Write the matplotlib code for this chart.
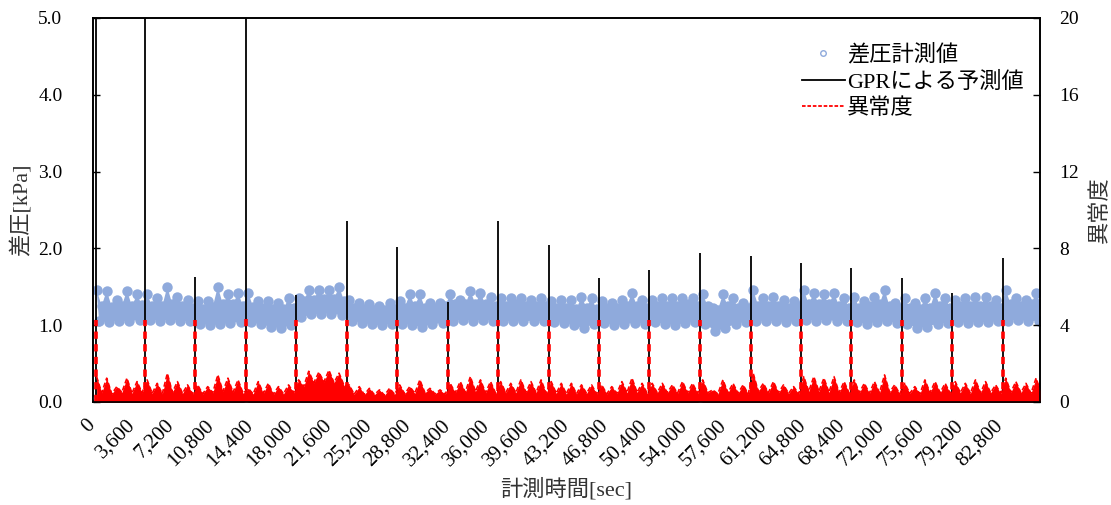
import matplotlib
matplotlib.use("Agg")
import matplotlib.pyplot as plt
import matplotlib.transforms as mtransforms
from matplotlib.lines import Line2D
import numpy as np

plt.rcParams['font.family'] = ['Liberation Serif', 'Noto Sans CJK JP']

# ---- data ----
INTERVAL = 4608      # sec between the periodic spikes
FIRST = 100          # start of the first interval [sec]
X_MAX = 86400

# upper edge of the measured band [kPa], 10 bins per spike interval
press_top = [
    1.46, 1.25, 1.45, 1.24, 1.33, 1.25, 1.45, 1.25, 1.40, 1.26,
    1.40, 1.25, 1.35, 1.25, 1.50, 1.27, 1.37, 1.25, 1.33, 1.23,
    1.31, 1.21, 1.31, 1.24, 1.50, 1.27, 1.40, 1.27, 1.42, 1.25,
    1.42, 1.24, 1.31, 1.22, 1.31, 1.21, 1.29, 1.21, 1.35, 1.23,
    1.35, 1.31, 1.46, 1.33, 1.46, 1.34, 1.46, 1.34, 1.50, 1.32,
    1.33, 1.23, 1.29, 1.21, 1.27, 1.20, 1.25, 1.20, 1.29, 1.21,
    1.31, 1.23, 1.40, 1.25, 1.40, 1.23, 1.29, 1.23, 1.29, 1.25,
    1.40, 1.27, 1.33, 1.27, 1.44, 1.28, 1.42, 1.27, 1.37, 1.25,
    1.35, 1.25, 1.35, 1.27, 1.35, 1.25, 1.33, 1.25, 1.35, 1.25,
    1.31, 1.23, 1.33, 1.23, 1.33, 1.21, 1.37, 1.23, 1.35, 1.21,
    1.31, 1.23, 1.29, 1.23, 1.33, 1.25, 1.42, 1.25, 1.33, 1.23,
    1.33, 1.25, 1.35, 1.25, 1.35, 1.25, 1.35, 1.27, 1.35, 1.25,
    1.40, 1.25, 1.22, 1.20, 1.40, 1.25, 1.35, 1.23, 1.29, 1.23,
    1.46, 1.25, 1.35, 1.25, 1.37, 1.25, 1.33, 1.23, 1.31, 1.25,
    1.46, 1.27, 1.42, 1.27, 1.40, 1.27, 1.42, 1.25, 1.35, 1.23,
    1.37, 1.23, 1.31, 1.25, 1.37, 1.27, 1.46, 1.25, 1.29, 1.23,
    1.35, 1.23, 1.29, 1.21, 1.35, 1.23, 1.42, 1.25, 1.35, 1.23,
    1.33, 1.25, 1.35, 1.25, 1.37, 1.25, 1.37, 1.25, 1.33, 1.23,
    1.46, 1.27, 1.35, 1.25, 1.33, 1.27, 1.42, 1.27,
]

# lower edge of the measured band [kPa], 5 bins per spike interval
press_bot = [
    1.05, 1.04, 1.06, 1.05, 1.07,
    1.07, 1.06, 1.07, 1.06, 1.05,
    1.02, 1.00, 1.01, 1.03, 1.04,
    1.04, 1.01, 0.98, 0.96, 1.00,
    1.10, 1.14, 1.15, 1.15, 1.13,
    1.06, 1.03, 1.01, 1.00, 1.02,
    1.02, 1.00, 0.98, 1.01, 1.03,
    1.06, 1.07, 1.06, 1.07, 1.06,
    1.06, 1.05, 1.05, 1.06, 1.05,
    1.04, 1.03, 1.00, 0.96, 1.02,
    1.03, 1.00, 1.01, 1.03, 1.02,
    1.04, 1.02, 1.00, 1.03, 1.04,
    1.02, 0.92, 0.96, 1.02, 1.04,
    1.05, 1.06, 1.05, 1.04, 1.05,
    1.07, 1.06, 1.07, 1.05, 1.06,
    1.04, 1.02, 1.04, 1.05, 1.03,
    1.02, 0.96, 0.98, 1.02, 1.03,
    1.04, 1.03, 1.04, 1.04, 1.05,
    1.06, 1.07, 1.05, 1.06,
]

# GPR prediction level between spikes [kPa], one per interval
gpr_level = [1.16, 1.17, 1.14, 1.13, 1.24, 1.12, 1.13, 1.17, 1.16, 1.14,
             1.13, 1.15, 1.13, 1.16, 1.17, 1.15, 1.13, 1.15, 1.17]

# anomaly score (right axis), 10 bins per spike interval
anomaly = [
    1.32, 0.48, 1.24, 0.42, 0.80, 0.50, 1.24, 0.45, 1.06, 0.48,
    1.15, 0.45, 0.97, 0.42, 1.49, 0.50, 1.06, 0.45, 0.89, 0.42,
    0.89, 0.42, 0.80, 0.48, 1.41, 0.55, 1.24, 0.50, 1.15, 0.45,
    0.71, 0.42, 1.06, 0.45, 0.97, 0.40, 0.80, 0.42, 0.89, 0.48,
    1.15, 0.80, 1.60, 1.00, 1.55, 1.05, 1.65, 1.00, 1.50, 0.85,
    0.89, 0.40, 0.80, 0.38, 0.71, 0.38, 0.63, 0.35, 0.71, 0.40,
    0.89, 0.42, 0.80, 0.45, 1.15, 0.48, 0.71, 0.42, 0.63, 0.40,
    0.97, 0.48, 1.06, 0.50, 1.32, 0.55, 1.15, 0.48, 1.06, 0.45,
    1.06, 0.48, 0.97, 0.48, 1.15, 0.50, 1.06, 0.48, 1.15, 0.45,
    1.06, 0.45, 0.97, 0.42, 0.97, 0.42, 0.89, 0.45, 0.89, 0.42,
    0.89, 0.42, 0.80, 0.45, 1.06, 0.48, 1.24, 0.50, 0.97, 0.45,
    0.97, 0.48, 0.97, 0.48, 0.89, 0.45, 1.06, 0.48, 0.97, 0.45,
    1.15, 0.48, 0.63, 0.42, 1.15, 0.48, 0.97, 0.45, 0.89, 0.42,
    1.49, 0.55, 0.97, 0.48, 1.06, 0.48, 0.89, 0.45, 0.80, 0.42,
    1.32, 0.55, 1.32, 0.55, 1.24, 0.50, 1.32, 0.48, 1.06, 0.45,
    1.15, 0.48, 0.97, 0.45, 1.06, 0.48, 1.41, 0.50, 0.89, 0.42,
    0.97, 0.45, 0.80, 0.42, 1.15, 0.48, 1.06, 0.48, 0.97, 0.45,
    1.06, 0.48, 0.97, 0.45, 1.15, 0.48, 1.06, 0.48, 0.89, 0.45,
    1.24, 0.50, 1.06, 0.48, 0.97, 0.45, 1.24, 0.50,
]

# periodic spike events
spike_t = [250, 4745, 9307, 13960, 18520, 23175, 27737, 32390, 36950, 41606,
           46168, 50730, 55383, 60036, 64598, 69160, 73814, 78376, 83029]
gpr_peak = [6.0, 6.0, 1.63, 6.0, 1.39, 2.36, 2.02, 1.30, 2.36, 2.04,
            1.61, 1.72, 1.94, 1.90, 1.81, 1.74, 1.61, 1.42, 1.87]
anom_spike = [4.27, 4.25, 4.27, 4.30, 4.25, 4.27, 4.27, 4.25, 4.27, 4.27,
              4.25, 4.27, 4.27, 4.25, 4.30, 4.27, 4.25, 4.27, 4.25]
meas_spike = [0.05, 0.06, 0.05, 0.04, 0.06, 0.05, 0.05, 0.06, 0.05, 0.05,
              0.06, 0.05, 0.04, 0.05, 0.06, 0.05, 0.05, 0.05, 0.06]

x_ticks = list(range(0, 82801, 3600))
y_ticks = [0.0, 1.0, 2.0, 3.0, 4.0, 5.0]
y2_ticks = [0, 4, 8, 12, 16, 20]

BLUE = '#8FAADC'
RED = '#FF0000'

# ---- sample positions ----
bin_w = INTERVAL / 10
t_top = FIRST + bin_w * (np.arange(len(press_top)) + 0.5)
t_bot = FIRST + 2 * bin_w * (np.arange(len(press_bot)) + 0.5)
t_gpr = FIRST + INTERVAL * (np.arange(len(gpr_level)) + 0.5)

fig = plt.figure(figsize=(11.11, 5.05), dpi=100)
ax = fig.add_axes([0.0837, 0.204, 0.8524, 0.7604])
ax2 = ax.twinx()

# GPR baseline (mostly hidden under the measurement band)
ax.plot(t_gpr, gpr_level, color='black', lw=0.8, zorder=1)

# measured band
ax.fill(np.r_[t_top, t_bot[::-1]], np.r_[press_top, press_bot[::-1]],
        color=BLUE, lw=0, zorder=2)
ax.plot(t_top, press_top, 'o', ms=7.5, color=BLUE, mew=0, zorder=2)
ax.plot(t_bot, press_bot, 'o', ms=7.5, color=BLUE, mew=0, zorder=2)
ax.plot(spike_t, meas_spike, 'o', ms=4, mfc='none', mec=BLUE, mew=1.0, zorder=3)

# GPR spikes
ax.vlines(spike_t, 0, gpr_peak, color='black', lw=1.3, zorder=4)

# anomaly on the secondary axis
ax2.fill_between(t_top, 0, anomaly, color=RED, lw=0)
ax2.plot(t_top, anomaly, color=RED, lw=1.2, ls=(0, (3, 1.5)))
ax2.vlines(spike_t, 0, anom_spike, color=RED, lw=2.6, linestyles=(0, (2, 1.5)))

ax.set_xlim(0, X_MAX)
ax.set_ylim(0, 5.0)
ax2.set_ylim(0, 20)

ax.tick_params(axis='y', direction='in', length=5, width=1, pad=22)
ax2.tick_params(axis='y', direction='in', length=5, width=1, pad=14)
ax.tick_params(axis='x', length=0, pad=10)

ax.set_yticks(y_ticks)
ax.set_yticklabels([f'{v:.1f}' for v in y_ticks], fontsize=14)
ax2.set_yticks(y2_ticks)
ax2.set_yticklabels([str(v) for v in y2_ticks], fontsize=14)
ax.set_xticks(x_ticks)
ax.set_xticklabels([f'{v:,}' for v in x_ticks], fontsize=15, rotation=45,
                   ha='right', rotation_mode='anchor')

for a in (ax, ax2):
    for s in a.spines.values():
        s.set_linewidth(1.2)
        s.set_color('black')

ax.set_ylabel('差圧[kPa]', fontsize=16, color='#333333', labelpad=4)
ax2.set_ylabel('異常度', fontsize=16, color='#333333', rotation=90, labelpad=8)
ax.set_xlabel('計測時間[sec]', fontsize=16, color='#333333', labelpad=6)

handles = [
    Line2D([], [], ls='none', marker='o', ms=4, mfc='none', mec=BLUE, mew=1.0),
    Line2D([], [], color='black', lw=1.3),
    Line2D([], [], color=RED, lw=1.3, ls=(0, (2, 1))),
]
labels = ['差圧計測値', 'GPRによる予測値', '異常度']
ax2.legend(handles, labels, loc='upper right', bbox_to_anchor=(0.992, 0.955),
           frameon=False, fontsize=16, handlelength=1.9, handletextpad=0.1,
           labelspacing=0.26, borderaxespad=0)

# nudge the rotated x labels left, as in the original layout
fig.canvas.draw()
shift = mtransforms.ScaledTranslation(-7 / 100, 0, fig.dpi_scale_trans)
for lbl in ax.get_xticklabels():
    lbl.set_transform(lbl.get_transform() + shift)

fig.savefig('out.png', dpi=100, facecolor='white')
